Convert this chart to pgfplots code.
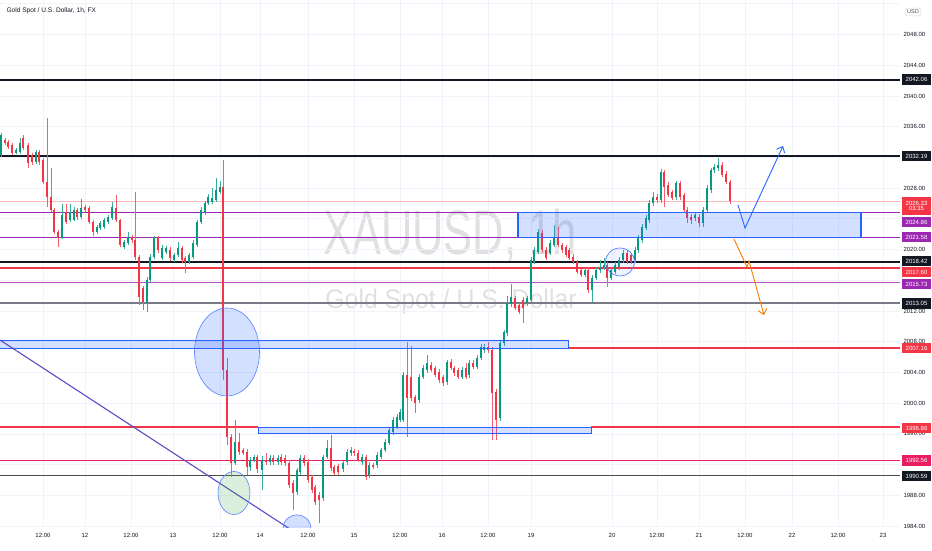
\documentclass[border=0pt]{standalone}
\usepackage{fontspec}
\setmainfont{Liberation Sans}
\usepackage{pgfplots}
\usepackage{pgfplotstable}
\pgfplotsset{compat=1.18}
\usetikzlibrary{arrows.meta}

\definecolor{upc}{HTML}{089981}
\definecolor{dnc}{HTML}{F23645}
\definecolor{tvblack}{HTML}{131722}
\definecolor{tvgray}{HTML}{787B86}
\definecolor{purp}{HTML}{9C27B0}
\definecolor{pinkc}{HTML}{E91E63}
\definecolor{zoneblue}{HTML}{2962FF}
\definecolor{trendc}{HTML}{5B4BC4}
\definecolor{orangec}{HTML}{F57C00}
\definecolor{gridc}{HTML}{F0F3FA}
\definecolor{greenc}{HTML}{4CAF50}

% hourly candles, x in chart pixels
\pgfplotstableread{
x o h l c
1 2032.32 2035.20 2032.00 2034.92
5 2034.27 2034.50 2033.60 2033.88
8 2034.00 2034.30 2033.10 2033.36
12 2033.62 2033.90 2032.30 2032.58
16 2032.58 2033.20 2032.40 2032.97
20 2032.71 2034.50 2032.50 2033.88
23 2034.50 2034.90 2033.00 2033.23
28 2033.62 2033.90 2030.63 2031.28
32 2032.32 2032.60 2031.00 2031.41
36 2031.41 2033.00 2031.10 2032.71
39 2032.71 2033.00 2031.00 2031.41
43 2031.67 2032.00 2028.50 2028.80
47 2028.80 2037.10 2025.55 2026.85
51 2026.85 2030.60 2024.90 2025.16
54 2025.16 2025.40 2022.00 2022.29
58 2022.29 2022.60 2020.34 2021.51
62 2021.64 2026.00 2021.40 2024.51
66 2024.77 2025.90 2023.30 2023.59
70 2023.85 2026.00 2023.60 2024.77
74 2023.90 2025.50 2023.70 2025.16
77 2025.16 2025.40 2023.90 2024.20
81 2024.20 2026.60 2024.00 2025.42
85 2025.55 2025.80 2024.90 2025.16
89 2025.42 2025.70 2023.30 2023.59
93 2023.59 2023.90 2021.80 2022.29
97 2022.29 2023.20 2022.00 2022.94
100 2022.81 2023.70 2022.60 2023.46
104 2022.94 2024.10 2022.70 2023.85
108 2023.59 2024.50 2023.40 2024.25
112 2024.11 2026.20 2023.90 2025.55
116 2025.42 2027.10 2023.60 2023.85
120 2023.85 2024.00 2020.30 2020.60
124 2020.34 2021.30 2020.10 2020.99
128 2020.86 2022.30 2020.60 2021.64
132 2021.64 2021.90 2020.90 2021.25
135 2021.25 2027.50 2018.65 2019.04
139 2019.04 2019.30 2012.79 2013.83
143 2015.00 2015.30 2012.14 2013.18
147 2013.10 2016.50 2011.90 2016.00
150 2016.04 2019.40 2015.80 2019.04
154 2019.04 2021.80 2018.80 2021.51
158 2021.51 2021.80 2019.60 2019.95
162 2018.91 2020.60 2018.60 2020.21
166 2019.69 2020.50 2019.40 2020.21
170 2019.95 2020.30 2018.50 2018.91
174 2018.65 2019.60 2018.40 2019.30
178 2019.30 2021.00 2019.00 2020.21
182 2020.21 2020.50 2018.30 2018.65
185 2018.91 2019.20 2016.95 2018.39
189 2018.39 2019.60 2018.10 2019.30
193 2019.04 2021.20 2018.80 2020.86
197 2020.60 2023.90 2020.30 2023.59
201 2023.59 2025.50 2023.30 2025.16
205 2024.77 2026.40 2024.50 2026.07
208 2026.07 2027.20 2025.80 2026.85
212 2026.20 2028.00 2025.90 2026.70
216 2026.46 2029.30 2026.20 2027.76
220 2027.50 2029.00 2027.20 2028.15
223 2028.15 2031.67 2003.02 2004.32
227 2004.32 2005.90 1994.50 1995.60
231 1995.60 1996.00 1990.40 1992.21
235 1992.21 1997.80 1991.90 1994.95
239 1994.95 1996.10 1993.30 1993.65
243 1993.91 1994.20 1993.20 1993.50
247 1993.65 1994.00 1990.60 1991.69
250 1991.69 1993.00 1991.20 1992.60
254 1992.60 1993.30 1992.30 1993.00
257 1993.00 1993.30 1990.90 1991.43
262 1991.30 1993.20 1988.70 1992.60
266 1992.60 1993.50 1992.00 1992.34
270 1992.34 1993.30 1991.90 1992.86
273 1992.86 1993.20 1992.00 1992.34
278 1992.34 1993.30 1992.00 1992.86
281 1993.00 1993.40 1991.90 1992.34
285 1992.86 1993.30 1991.80 1992.21
289 1992.21 1992.60 1989.00 1989.35
293 1989.61 1990.00 1986.09 1988.31
297 1988.44 1991.60 1988.10 1991.30
300 1991.04 1993.30 1990.70 1992.86
304 1992.86 1993.20 1991.80 1992.21
308 1992.34 1992.70 1989.60 1989.98
312 1990.39 1990.70 1988.30 1988.70
315 1989.09 1989.40 1986.80 1987.14
319 1988.05 1988.40 1984.40 1987.40
323 1987.66 1993.30 1987.30 1993.00
327 1993.00 1995.20 1992.70 1994.17
331 1994.17 1995.80 1991.20 1991.56
334 1991.69 1992.00 1990.60 1990.91
338 1991.80 1992.10 1990.70 1991.04
343 1991.43 1992.50 1991.10 1992.21
347 1992.34 1994.00 1992.00 1993.65
351 1993.50 1994.30 1993.20 1993.91
354 1993.80 1994.10 1993.20 1993.55
358 1993.55 1993.90 1992.30 1992.60
362 1992.34 1993.40 1992.00 1993.00
366 1993.00 1993.30 1990.00 1990.39
369 1990.65 1992.30 1990.30 1991.95
373 1991.95 1992.20 1991.40 1991.69
377 1991.95 1993.60 1991.60 1993.26
381 1993.00 1994.20 1992.70 1993.91
385 1993.91 1995.30 1993.60 1994.95
389 1994.82 1996.90 1994.50 1996.51
393 1996.25 1998.20 1995.90 1997.81
397 1996.90 1998.60 1996.60 1998.20
400 1997.81 1999.20 1997.50 1998.85
403 1997.81 2004.00 1997.50 2003.67
407 2003.67 2007.97 1995.60 2000.68
411 2003.41 2007.50 2000.30 2000.68
415 2000.81 2001.10 1998.72 2000.03
419 2000.42 2003.80 2000.10 2003.41
423 2003.41 2005.00 2003.10 2004.58
427 2004.32 2006.30 2004.00 2005.20
431 2005.00 2005.40 2004.00 2004.32
435 2004.58 2004.90 2003.40 2003.67
439 2004.06 2004.40 2002.70 2003.02
443 2003.41 2003.70 2002.30 2002.63
447 2002.76 2005.70 2002.40 2005.36
451 2005.36 2005.80 2004.30 2004.58
454 2004.58 2004.90 2003.60 2003.93
458 2004.32 2004.60 2003.10 2003.41
462 2003.41 2004.70 2003.10 2004.32
466 2004.58 2005.20 2003.10 2003.41
469 2003.67 2005.60 2003.30 2005.23
473 2005.23 2005.60 2004.40 2004.71
477 2004.71 2006.30 2004.40 2005.89
481 2005.89 2007.70 2005.60 2007.32
484 2006.93 2007.70 2006.60 2007.32
488 2007.32 2007.97 2006.60 2006.93
492 2006.93 2007.30 1995.21 2001.33
496 2001.46 2001.80 1995.21 1997.81
500 1998.07 2008.20 1997.70 2007.84
504 2007.84 2009.60 2007.50 2009.27
507 2009.14 2014.00 2008.80 2013.05
511 2012.90 2015.50 2012.50 2013.83
515 2013.70 2014.00 2012.10 2012.40
519 2012.79 2013.10 2011.60 2011.90
523 2013.44 2013.80 2010.50 2012.40
527 2013.05 2014.00 2012.70 2013.70
531 2013.44 2019.00 2013.10 2018.65
534 2018.39 2020.30 2018.10 2019.95
538 2019.69 2022.70 2019.40 2022.29
542 2022.16 2022.50 2019.60 2019.95
546 2019.95 2020.30 2018.60 2018.91
550 2019.56 2021.20 2019.30 2020.86
554 2020.60 2023.20 2020.30 2021.64
558 2021.51 2022.90 2020.30 2020.60
562 2020.60 2020.90 2019.60 2019.95
566 2020.34 2020.60 2019.00 2019.30
569 2019.95 2020.20 2018.60 2018.91
573 2019.04 2019.40 2018.10 2018.39
577 2018.39 2018.70 2016.80 2017.08
581 2017.34 2017.60 2016.40 2016.69
585 2016.69 2017.70 2016.40 2017.34
588 2017.34 2017.70 2014.40 2014.74
592 2014.74 2016.70 2013.18 2016.30
596 2016.30 2017.70 2016.00 2017.34
600 2017.34 2018.60 2017.00 2017.70
604 2017.70 2018.90 2017.40 2018.00
607 2018.00 2018.40 2015.10 2016.30
611 2016.30 2017.70 2016.00 2017.34
615 2017.08 2018.40 2016.80 2018.00
619 2017.70 2019.00 2017.40 2018.65
623 2018.65 2019.90 2018.30 2019.56
627 2019.56 2019.90 2018.10 2018.39
631 2019.30 2019.60 2018.10 2018.39
635 2018.65 2020.30 2018.30 2019.95
638 2019.95 2021.90 2019.60 2021.51
642 2021.25 2023.30 2020.90 2022.94
646 2022.81 2024.50 2022.50 2024.11
649 2023.85 2026.40 2023.50 2026.07
653 2026.07 2027.50 2025.70 2026.85
657 2026.85 2027.20 2026.10 2026.46
661 2026.46 2030.50 2026.10 2030.10
664 2030.10 2030.40 2025.55 2028.15
668 2028.41 2028.80 2026.80 2027.11
672 2027.50 2027.80 2026.40 2026.70
676 2026.85 2029.00 2026.50 2028.67
680 2028.67 2029.00 2026.50 2026.85
684 2027.11 2027.40 2024.90 2025.16
687 2025.16 2025.50 2023.50 2024.11
691 2024.25 2024.60 2023.40 2023.85
695 2024.11 2024.90 2023.70 2024.51
699 2024.25 2024.60 2022.90 2023.46
703 2023.46 2025.50 2023.00 2025.16
707 2025.16 2028.40 2024.80 2028.02
711 2027.76 2030.70 2027.40 2030.36
714 2030.36 2031.10 2030.00 2030.75
718 2030.63 2031.93 2030.30 2031.02
722 2031.02 2031.40 2029.40 2029.71
726 2029.84 2030.20 2028.50 2028.80
730 2028.80 2029.10 2026.00 2026.33
}\candles

\newcommand{\ptag}[3]{\node[fill=#1, text=white, font=\fontsize{6}{7}\selectfont, minimum width=29pt, minimum height=10.5pt, inner sep=0pt] at (916.5pt,#2pt) {#3};}

\begin{document}
\begin{tikzpicture}
\useasboundingbox (0,0) rectangle (932pt,550pt);
% watermark
\node[text=black!12, font=\fontsize{63}{63}\selectfont, xscale=0.69] at (450pt,314pt) {XAUUSD, 1h};
\node[text=black!12, font=\fontsize{27}{27}\selectfont, xscale=0.92] at (451pt,248pt) {Gold Spot / U.S. Dollar};

\begin{axis}[
  scale only axis,
  width=900pt, height=527pt,
  at={(0pt,23pt)}, anchor=south west,
  xmin=0, xmax=900,
  ymin=1983.88, ymax=2052.5,
  axis line style={draw=none},
  tick style={draw=none},
  grid=major,
  major grid style={draw=gridc, line width=0.8pt},
  xtick={43,85,131,173,220,260,308,354,400,442,488,531,612,657,699,745,792,838,883},
  xticklabels={12:00,12,12:00,13,12:00,14,12:00,15,12:00,16,12:00,19,20,12:00,21,12:00,22,12:00,23},
  ytick={1984,1988,...,2052},
  yticklabels={1984.00,1988.00,1992.00,1996.00,2000.00,2004.00,2008.00,2012.00,,2020.00,,2028.00,,2036.00,2040.00,2044.00,2048.00,},
  yticklabel pos=right,
  tick label style={font=\fontsize{6}{7}\selectfont, text=tvblack},
  x tick label style={yshift=-3pt},
  y tick label style={anchor=west, xshift=0pt},
  candle/.style={mark=none, draw=none, forget plot,
    error bars/y dir=both, error bars/y explicit, error bars/error mark=none},
]
% horizontal levels
\addplot[tvblack, line width=1.8pt] coordinates {(0,2042.06) (900,2042.06)};
\addplot[tvblack, line width=1.8pt] coordinates {(0,2032.19) (900,2032.19)};
\addplot[dnc!35, line width=0.8pt] coordinates {(0,2026.33) (900,2026.33)};
\addplot[purp, line width=1.3pt] coordinates {(0,2024.86) (900,2024.86)};
\addplot[purp, line width=1.8pt] coordinates {(0,2021.58) (900,2021.58)};
\addplot[tvblack, line width=1.6pt] coordinates {(0,2018.42) (900,2018.42)};
\addplot[dnc, line width=1.6pt] coordinates {(0,2017.60) (900,2017.60)};
\addplot[purp!80, line width=0.8pt] coordinates {(0,2015.73) (900,2015.73)};
\addplot[tvgray, line width=1.2pt] coordinates {(0,2013.05) (900,2013.05)};
\addplot[purp!70, line width=0.8pt] coordinates {(0,2007.16) (568,2007.16)};
\addplot[dnc, line width=1.5pt] coordinates {(568,2007.16) (900,2007.16)};
\addplot[dnc, line width=1.8pt] coordinates {(0,1996.86) (258,1996.86)};
\addplot[dnc, line width=1.8pt] coordinates {(591,1996.86) (900,1996.86)};
\addplot[pinkc, line width=1.3pt] coordinates {(0,1992.56) (900,1992.56)};
\addplot[black!70, line width=1.1pt] coordinates {(0,1990.59) (900,1990.59)};

% wicks
\addplot[candle, restrict expr to domain={\thisrow{c}-\thisrow{o}}{0:100},
  error bars/error bar style={draw=upc!80, line width=0.7pt}]
  table[x=x, y expr={(\thisrow{h}+\thisrow{l})/2}, y error expr={(\thisrow{h}-\thisrow{l})/2}] {\candles};
\addplot[candle, restrict expr to domain={\thisrow{c}-\thisrow{o}}{-100:-0.0001},
  error bars/error bar style={draw=dnc!80, line width=0.7pt}]
  table[x=x, y expr={(\thisrow{h}+\thisrow{l})/2}, y error expr={(\thisrow{h}-\thisrow{l})/2}] {\candles};
% bodies
\addplot[candle, restrict expr to domain={\thisrow{c}-\thisrow{o}}{0:100},
  error bars/error bar style={draw=upc, line width=2.7pt}]
  table[x=x, y expr={(\thisrow{o}+\thisrow{c})/2}, y error expr={max(abs(\thisrow{c}-\thisrow{o})/2,0.1)}] {\candles};
\addplot[candle, restrict expr to domain={\thisrow{c}-\thisrow{o}}{-100:-0.0001},
  error bars/error bar style={draw=dnc, line width=2.7pt}]
  table[x=x, y expr={(\thisrow{o}+\thisrow{c})/2}, y error expr={max(abs(\thisrow{c}-\thisrow{o})/2,0.1)}] {\candles};

% zones
\addplot[draw=zoneblue, line width=1.2pt, fill=zoneblue, fill opacity=0.2] coordinates {(518,2024.86) (861,2024.86) (861,2021.58) (518,2021.58) (518,2024.86)};
\addplot[draw=zoneblue, line width=1pt, fill=zoneblue, fill opacity=0.2] coordinates {(0,2008.10) (568,2008.10) (568,2007.16) (0,2007.16) (0,2008.10)};
\addplot[draw=zoneblue, line width=1pt, fill=zoneblue, fill opacity=0.2] coordinates {(258,1996.86) (591,1996.86) (591,1996.00) (258,1996.00) (258,1996.86)};

% trend line
\addplot[trendc, line width=1.1pt] coordinates {(0,2008.23) (300,1982.76)};

% ellipses
\draw[zoneblue!80, line width=0.6pt, fill=zoneblue, fill opacity=0.2] (axis cs:227,2006.67) ellipse [x radius=32.5, y radius=5.73];
\draw[zoneblue!80, line width=0.6pt, fill=greenc, fill opacity=0.2] (axis cs:234,1988.31) ellipse [x radius=16, y radius=2.8];
\draw[zoneblue!80, line width=0.6pt, fill=zoneblue, fill opacity=0.2] (axis cs:297,1983.75) ellipse [x radius=14, y radius=1.7];
\draw[zoneblue!80, line width=0.7pt, fill=zoneblue, fill opacity=0.08] (axis cs:620,2018.39) ellipse [x radius=14.5, y radius=1.82];

% scenario arrows
\draw[zoneblue, line width=0.9pt, -{Straight Barb[length=5pt, width=9pt]}] (axis cs:738,2025.81) -- (axis cs:745,2022.81) -- (axis cs:783,2033.49);
\draw[orangec, line width=0.9pt, -{Straight Barb[length=5pt, width=9pt]}] (axis cs:734,2021.38) -- (axis cs:747,2017.73) -- (axis cs:749,2018.52) -- (axis cs:764,2011.48);
\end{axis}

% header
\node[anchor=west, text=tvblack, font=\fontsize{6.6}{8}\selectfont] at (3pt,539pt) {Gold Spot / U.S. Dollar, 1h, FX};
\node[draw=black!15, rounded corners=1.5pt, text=black!70, font=\fontsize{5.5}{6}\selectfont, inner sep=2pt] at (913pt,538pt) {USD};

% price tags
\ptag{tvblack}{470.5}{2042.06}
\ptag{tvblack}{394}{2032.19}
\node[fill=dnc, text=white, font=\fontsize{6}{7}\selectfont, minimum width=29pt, minimum height=18pt, inner sep=0pt, align=center] at (916.5pt,344pt) {2026.33\\[-1.5pt]{\color{white!80}03:35}};
\ptag{purp}{328}{2024.86}
\ptag{purp}{313}{2021.58}
\ptag{tvblack}{289}{2018.42}
\ptag{dnc}{278}{2017.60}
\ptag{purp}{266}{2015.73}
\ptag{tvblack}{246.5}{2013.05}
\ptag{dnc}{202}{2007.16}
\ptag{dnc}{122}{1996.86}
\ptag{pinkc}{89.5}{1992.56}
\ptag{tvblack}{74}{1990.59}
\end{tikzpicture}
\end{document}
